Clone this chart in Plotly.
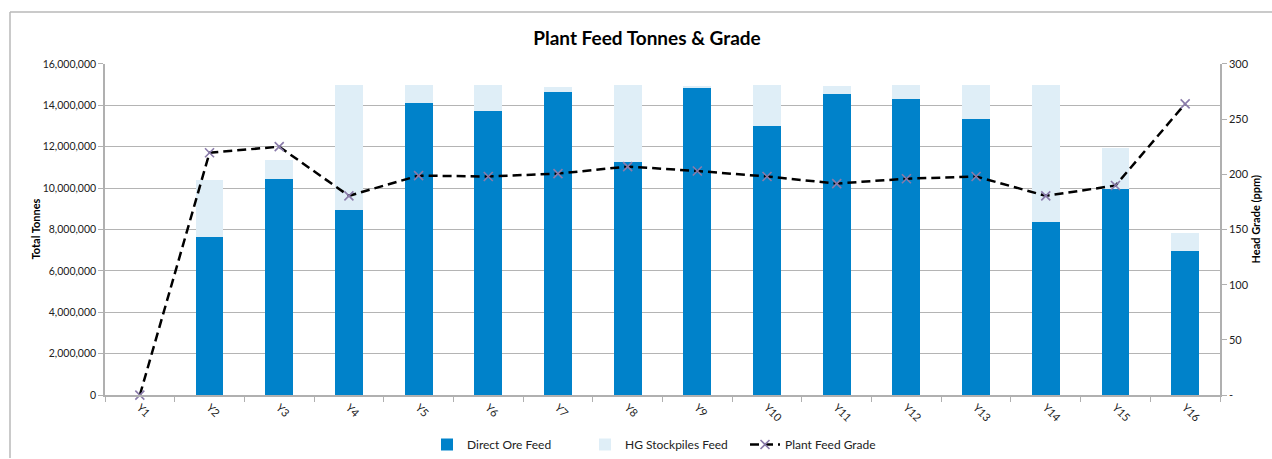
import plotly.graph_objects as go

years = ["Y1", "Y2", "Y3", "Y4", "Y5", "Y6", "Y7", "Y8", "Y9", "Y10", "Y11", "Y12", "Y13", "Y14", "Y15", "Y16"]
direct_ore = [0, 7660000, 10460000, 8960000, 14120000, 13730000, 14650000, 11280000, 14840000,
              13010000, 14550000, 14310000, 13350000, 8340000, 9980000, 6940000]
total_feed = [0, 10410000, 11370000, 15000000, 15000000, 15000000, 14900000, 15000000, 14940000,
              15000000, 14940000, 15000000, 15000000, 15000000, 11950000, 7810000]
hg_stockpile = [t - d for t, d in zip(total_feed, direct_ore)]
grade = [0, 219.5, 225, 180.5, 198.8, 198, 200.6, 207, 203, 198, 191.6, 196, 198, 180.5, 189.8, 263.8]

left_ticks = list(range(0, 16000001, 2000000))
left_text = [f"{v:,}" for v in left_ticks]
right_ticks = [0, 50, 100, 150, 200, 250, 300]
right_text = ["-", "50", "100", "150", "200", "250", "300"]

FONT = "Lato, Liberation Sans, sans-serif"
W, H = 1272, 459

def xp(px):
    return px / W
def yp(py):
    return 1 - py / H

fig = go.Figure()
fig.add_trace(go.Bar(x=years, y=direct_ore, name="Direct Ore Feed", legend="legend",
                     showlegend=True,
                     marker=dict(color="#0082CA", line=dict(width=0)), width=0.4))
fig.add_trace(go.Bar(x=years, y=hg_stockpile, name="HG Stockpiles Feed", legend="legend2",
                     showlegend=True,
                     marker=dict(color="#DFEEF7", line=dict(width=0)), width=0.4))
fig.add_trace(go.Scatter(x=years, y=grade, name="Plant Feed Grade", yaxis="y2", legend="legend3",
                         showlegend=True, mode="lines+markers", cliponaxis=False,
                         line=dict(color="black", width=2.5, dash="9px,5px"),
                         marker=dict(symbol="x-thin", size=9,
                                     line=dict(color="#8A7BAA", width=1.6), color="#8A7BAA")))

shapes = [
    dict(type="line", xref="paper", yref="paper", x0=xp(10), x1=xp(1272), y0=yp(12), y1=yp(12),
         line=dict(color="#B8B8B8", width=1.5)),
    dict(type="line", xref="paper", yref="paper", x0=xp(10), x1=xp(10), y0=yp(12), y1=yp(459),
         line=dict(color="#B8B8B8", width=1.5)),
]

annotations = [
    dict(text="<b>Total Tonnes</b>", xref="paper", yref="paper", x=xp(35), y=yp(230),
         textangle=-90, showarrow=False, xanchor="center", yanchor="middle",
         font=dict(size=11, color="black", family=FONT)),
    dict(text="<b>Head Grade (ppm)</b>", xref="paper", yref="paper", x=xp(1256), y=yp(220),
         textangle=-90, showarrow=False, xanchor="center", yanchor="middle",
         font=dict(size=11, color="black", family=FONT)),
]

legend_common = dict(orientation="h", xanchor="left", y=yp(445), yanchor="middle",
                     font=dict(size=12, color="#222222"), bgcolor="rgba(0,0,0,0)")

fig.update_layout(
    width=W, height=H,
    barmode="stack",
    showlegend=True,
    plot_bgcolor="white", paper_bgcolor="white",
    margin=dict(l=0, r=0, t=0, b=0),
    font=dict(family=FONT, size=11, color="#222222"),
    title=dict(text="<b>Plant Feed Tonnes &amp; Grade</b>", xref="container", x=647 / W,
               xanchor="center", yref="container", y=1 - 38 / H, yanchor="middle",
               font=dict(size=19, color="black", family=FONT)),
    xaxis=dict(type="category", domain=[xp(105), xp(1220)], range=[-0.5, len(years) - 0.5],
               tickangle=45, showgrid=False,
               showline=True, automargin=False,
               linecolor="#B0B0B0", linewidth=1.5, ticks="outside", tickson="boundaries",
               ticklen=5, tickcolor="#B0B0B0", tickfont=dict(size=11)),
    yaxis=dict(range=[0, 16000000], domain=[yp(396), yp(64)], tickvals=left_ticks,
               ticktext=left_text, automargin=False,
               showgrid=True, gridcolor="#B4B4B4", gridwidth=1.2,
               showline=True, linecolor="#B0B0B0", linewidth=1.5,
               ticks="outside", ticklen=5, tickcolor="#B0B0B0", zeroline=False,
               tickfont=dict(size=10.5)),
    yaxis2=dict(range=[0, 300], overlaying="y", side="right", tickvals=right_ticks,
                ticktext=right_text, showgrid=False, showline=True, linecolor="#B0B0B0",
                automargin=False,
                linewidth=1.5, ticks="outside", ticklen=5, tickcolor="#B0B0B0", zeroline=False),
    legend=dict(x=xp(427), **legend_common),
    legend2=dict(x=xp(585), **legend_common),
    legend3=dict(x=xp(745), **legend_common),
    shapes=shapes,
    annotations=annotations,
)

fig.write_html("out.html", config={"displayModeBar": False},
               post_script="document.body.style.margin='0px';")
